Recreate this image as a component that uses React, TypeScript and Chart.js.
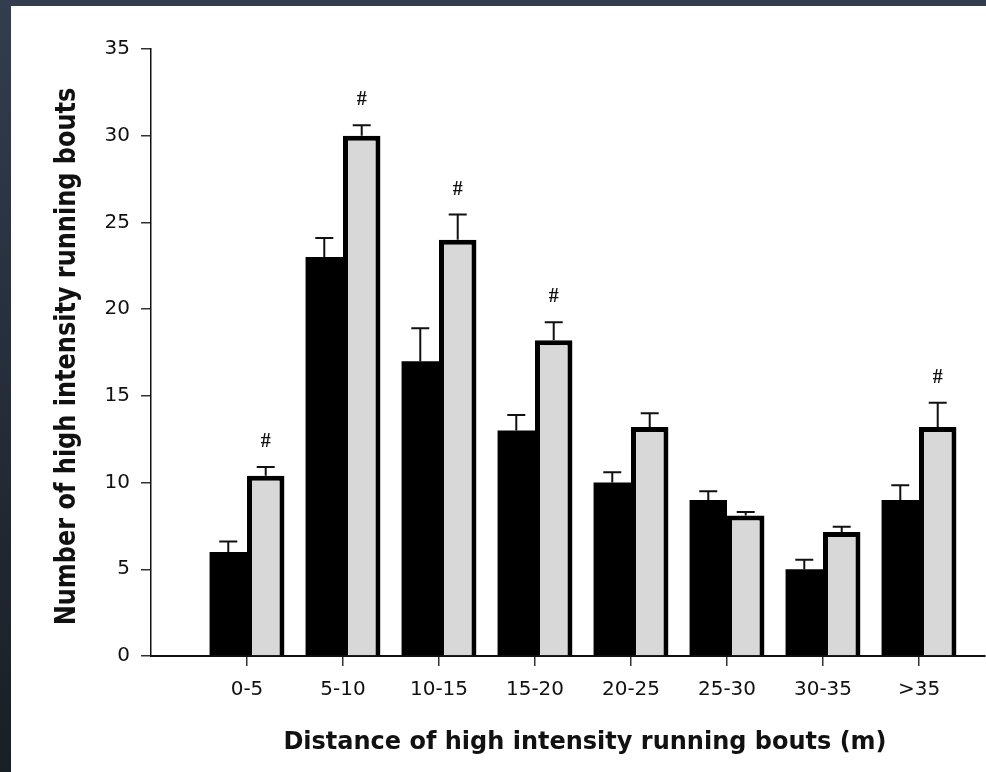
import React, { useEffect, useRef } from "react";
import { Chart, registerables } from "chart.js";

Chart.register(...registerables);

const categories = ["0-5", "5-10", "10-15", "15-20", "20-25", "25-30", "30-35", ">35"];
const blackValues = [6, 23, 17, 13, 10, 9, 5, 9];
const blackErrors = [0.6, 1.1, 1.9, 0.9, 0.6, 0.5, 0.55, 0.85];
const grayValues = [10.4, 30, 24, 18.2, 13.2, 8.1, 7.15, 13.2];
const grayErrors = [0.5, 0.6, 1.45, 1.05, 0.8, 0.2, 0.3, 1.4];
const sigMarks = ["#", "#", "#", "#", "", "", "", "#"];
const yTicks = [0, 5, 10, 15, 20, 25, 30, 35];
const xTitle = "Distance of high intensity running bouts (m)";
const yTitle = "Number of high intensity running bouts";

const errorPlugin = {
  id: "errorBars",
  afterDatasetsDraw(chart: any) {
    const ctx = chart.ctx;
    const y = chart.scales.y;
    const sets: [number[], number[]][] = [
      [blackValues, blackErrors],
      [grayValues, grayErrors],
    ];
    ctx.save();
    ctx.strokeStyle = "#111";
    ctx.lineWidth = 2;
    sets.forEach(([vals, errs], di) => {
      const meta = chart.getDatasetMeta(di);
      meta.data.forEach((bar: any, i: number) => {
        const x = bar.x;
        const top = y.getPixelForValue(vals[i]);
        const cap = y.getPixelForValue(vals[i] + errs[i]);
        ctx.beginPath();
        ctx.moveTo(x, top);
        ctx.lineTo(x, cap);
        ctx.moveTo(x - 9, cap);
        ctx.lineTo(x + 9, cap);
        ctx.stroke();
      });
    });
    const meta = chart.getDatasetMeta(1);
    ctx.fillStyle = "#111";
    ctx.font = "bold 20px 'Liberation Serif'";
    ctx.textAlign = "center";
    ctx.textBaseline = "middle";
    meta.data.forEach((bar: any, i: number) => {
      if (!sigMarks[i]) return;
      const cap = y.getPixelForValue(grayValues[i] + grayErrors[i]);
      ctx.fillText(sigMarks[i], bar.x, cap - 25);
    });
    ctx.restore();
  },
};

const titlePlugin = {
  id: "axisTitles",
  afterDraw(chart: any) {
    const ctx = chart.ctx;
    ctx.save();
    ctx.fillStyle = "#111";
    ctx.font = "bold 24px 'DejaVu Sans'";
    ctx.textAlign = "center";
    ctx.textBaseline = "alphabetic";
    ctx.fillText(xTitle, 574, 743);
    ctx.translate(64, 350.5);
    ctx.scale(1.15, 1);
    ctx.rotate(-Math.PI / 2);
    ctx.fillText(yTitle, 0, 0);
    ctx.restore();
  },
};

export default function App() {
  const ref = useRef<HTMLCanvasElement | null>(null);

  useEffect(() => {
    if (!ref.current) return;
    const chart = new Chart(ref.current, {
      type: "bar",
      data: {
        datasets: [
          {
            label: "A",
            data: blackValues.map((v, i) => ({ x: i, y: v })),
            backgroundColor: "#000",
            borderWidth: 0,
            categoryPercentage: 0.78,
            barPercentage: 1,
          },
          {
            label: "B",
            data: grayValues.map((v, i) => ({ x: i, y: v })),
            backgroundColor: "#d8d8d8",
            borderColor: "#000",
            borderWidth: 5,
            borderSkipped: "start",
            categoryPercentage: 0.78,
            barPercentage: 1,
          },
        ],
      },
      options: {
        responsive: false,
        animation: false,
        layout: { padding: { top: 43, right: 1, left: 0, bottom: 0 } },
        plugins: { legend: { display: false }, tooltip: { enabled: false } },
        scales: {
          x: {
            type: "linear",
            offset: false,
            min: -1,
            max: 7.6875,
            afterBuildTicks: (s: any) => {
              s.ticks = categories.map((_, i) => ({ value: i }));
            },
            afterFit: (s: any) => {
              s.height = 116;
            },
            grid: {
              offset: false,
              drawOnChartArea: false,
              drawTicks: true,
              tickLength: 10,
              color: "#333",
              lineWidth: 1.5,
            },
            border: { display: true, color: "#111", width: 2 },
            ticks: {
              callback: (v: any) => categories[v] ?? "",
              font: { family: "DejaVu Sans", size: 20 },
              color: "#111",
              padding: 12,
              maxRotation: 0,
              autoSkip: false,
            },
          },
          y: {
            min: 0,
            max: 35,
            afterBuildTicks: (s: any) => {
              s.ticks = yTicks.map((v) => ({ value: v }));
            },
            afterFit: (s: any) => {
              s.width = 140;
            },
            grid: { drawOnChartArea: false, drawTicks: true, tickLength: 10, color: "#333", lineWidth: 1.5 },
            border: { display: true, color: "#111", width: 1.5 },
            ticks: {
              font: { family: "DejaVu Sans", size: 20 },
              color: "#111",
              padding: 11,
            },
          },
        },
      },
      plugins: [errorPlugin, titlePlugin],
    });
    return () => chart.destroy();
  }, []);

  return (
    <div
      style={{
        position: "fixed",
        left: 0,
        top: 0,
        width: 986,
        height: 772,
        background: "linear-gradient(#323d4e, #1a1e25)",
      }}
    >
      <div style={{ position: "absolute", left: 11, top: 6, width: 975, height: 766, background: "#fff" }}>
        <canvas ref={ref} width={975} height={766} style={{ display: "block" }} />
      </div>
    </div>
  );
}
